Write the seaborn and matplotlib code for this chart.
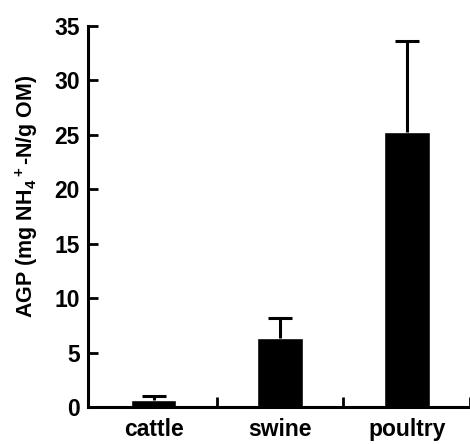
import matplotlib
matplotlib.use('Agg')
import matplotlib.pyplot as plt
import seaborn as sns
import pandas as pd

# AGP by manure type
manure = ['cattle', 'swine', 'poultry']
agp = [0.6, 6.3, 25.3]
agp_err = [0.4, 1.9, 8.3]

df = pd.DataFrame({'manure': manure, 'agp': agp})

sns.set_style('ticks', {'axes.edgecolor': 'black', 'text.color': 'black',
                        'axes.labelcolor': 'black', 'xtick.color': 'black',
                        'ytick.color': 'black'})
plt.rcParams['font.family'] = ['Liberation Sans', 'DejaVu Sans']
plt.rcParams['mathtext.fontset'] = 'custom'
plt.rcParams['mathtext.rm'] = 'Liberation Sans:bold'
plt.rcParams['mathtext.it'] = 'Liberation Sans:bold'
plt.rcParams['mathtext.bf'] = 'Liberation Sans:bold'

fig = plt.figure(figsize=(4.7, 4.44), dpi=100)
ax = fig.add_axes([0.187, 0.0833, 0.813, 0.858])

sns.barplot(data=df, x='manure', y='agp', color='black', width=0.36,
            saturation=1, ax=ax)
eb = ax.errorbar(range(len(manure)), agp, yerr=[[0] * len(agp), agp_err],
                 fmt='none', ecolor='black', elinewidth=2.2, capsize=8.5,
                 capthick=2.2)
# only the upper cap
eb[1][0].set_visible(False)

ax.set_ylim(0, 35)
ax.set_yticks(range(0, 36, 5))
ax.set_xlim(-0.52, 2.5)
ax.set_xticks(range(len(manure)))
ax.set_xticklabels(manure)
ax.set_xticks([0.5, 1.5, 2.5], minor=True)

for s in ['top', 'right']:
    ax.spines[s].set_visible(False)
for s in ['left', 'bottom']:
    ax.spines[s].set_linewidth(2.2)

ax.tick_params(axis='y', direction='in', length=7, width=2, labelsize=16.5, pad=6)
ax.tick_params(axis='x', which='major', length=0, labelsize=16.5, pad=8)
ax.tick_params(axis='x', which='minor', direction='in', length=7, width=2)
for lbl in ax.get_xticklabels() + ax.get_yticklabels():
    lbl.set_fontweight('bold')

ax.set_xlabel('')
ax.set_ylabel(r'AGP (mg NH$_4$$^+$-N/g OM)', fontsize=15.5, fontweight='bold')
ax.yaxis.set_label_coords(-0.125, 0.554)

plt.savefig('out.png', dpi=100)
plt.close()
